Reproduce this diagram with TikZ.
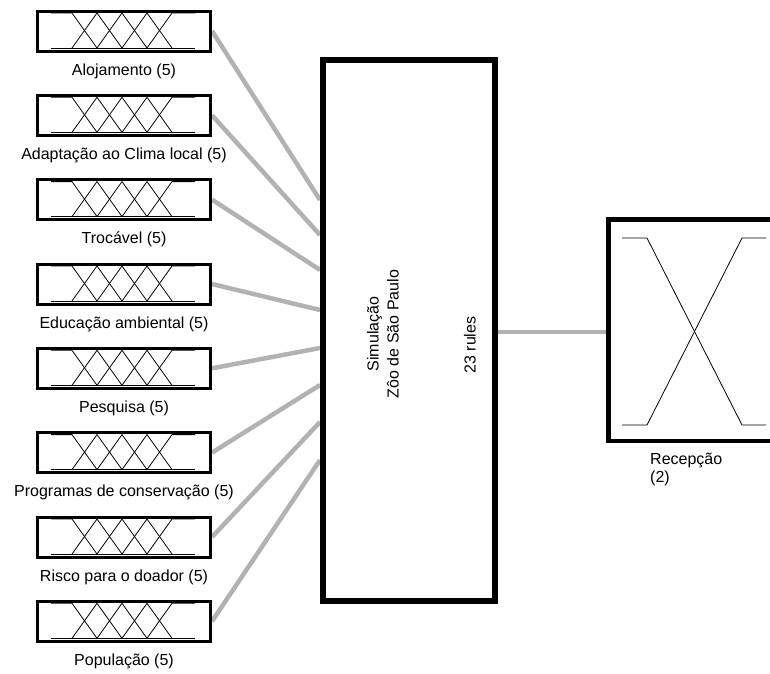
\documentclass[tikz,border=0pt]{standalone}
\usepackage{fontspec}
\setmainfont{Liberation Sans}
\usetikzlibrary{backgrounds}
\begin{document}
\begin{tikzpicture}[x=1pt,y=-1pt,
  inbox/.style={draw=black,line width=3pt,minimum width=173pt,minimum height=40pt,inner sep=0pt},
  simbox/.style={draw=black,line width=6pt,minimum width=172pt,minimum height=541pt,inner sep=0pt},
  outbox/.style={draw=black,line width=4.5pt,minimum width=181.5pt,minimum height=221.5pt,inner sep=0pt},
  mf/.style={line width=0.8pt,black,line join=round},
  wire/.style={draw=gray!60,line width=4.5pt},
  lab/.style={font=\fontsize{16}{20}\selectfont,inner sep=0pt}]
\useasboundingbox (0,0) rectangle (770,673);
\clip (0,0) rectangle (770,673);

% rule block
\node[simbox] (sim) at (409,330.5) {};
\node[lab,rotate=90,align=center] (simtxt) at (383,334) {Simulação\\Zôo de São Paulo};
\node[lab,rotate=90] (rules) at (470,345) {23 rules};

% input variables, each with five membership functions
\foreach \i/\cy/\ey/\txt in {
  1/31/200/Alojamento (5),
  2/115.3/235/Adaptação ao Clima local (5),
  3/199.6/270/Trocável (5),
  4/284/310/Educação ambiental (5),
  5/368.3/348/Pesquisa (5),
  6/452.6/385/Programas de conservação (5),
  7/537/422/Risco para o doador (5),
  8/621.3/460/População (5)} {
  \node[inbox] (in\i) at (124,\cy) {};
  \begin{scope}[shift={(124,\cy)}]
    \draw[mf] (-73,17) -- (71,17);
    \draw[mf] (-73,-18) -- (-52,-18) -- (-27,17);
    \draw[mf] (-52,17) -- (-27,-18) -- (-2,17);
    \draw[mf] (-27,17) -- (-2,-18) -- (23,17);
    \draw[mf] (-2,17) -- (23,-18) -- (48,17);
    \draw[mf] (23,17) -- (48,-18) -- (71,-18);
  \end{scope}
  \node[lab] (lab\i) at (124,\cy+40) {\txt};
  \coordinate (end\i) at (sim.west |- 0,\ey);
  \begin{pgfonlayer}{background}
    \draw[wire] (in\i.east) -- (end\i);
  \end{pgfonlayer}
}

% output variable with two membership functions
\node[outbox] (rec) at (699.25,330) {};
\draw[mf] (622,238) -- (647,238) -- (742,425) -- (766,425);
\draw[mf] (622,425) -- (647,425) -- (742,238) -- (766,238);
\node[lab,anchor=north west,align=left,font=\fontsize{16}{18}\selectfont] (reclab) at (650,453) {Recepção\\(2)};

\coordinate (outstart) at (sim.east |- 0,332);
\coordinate (outend) at (rec.west |- 0,332);
\begin{pgfonlayer}{background}
  \draw[wire] (outstart) -- (outend);
\end{pgfonlayer}
\end{tikzpicture}
\end{document}
